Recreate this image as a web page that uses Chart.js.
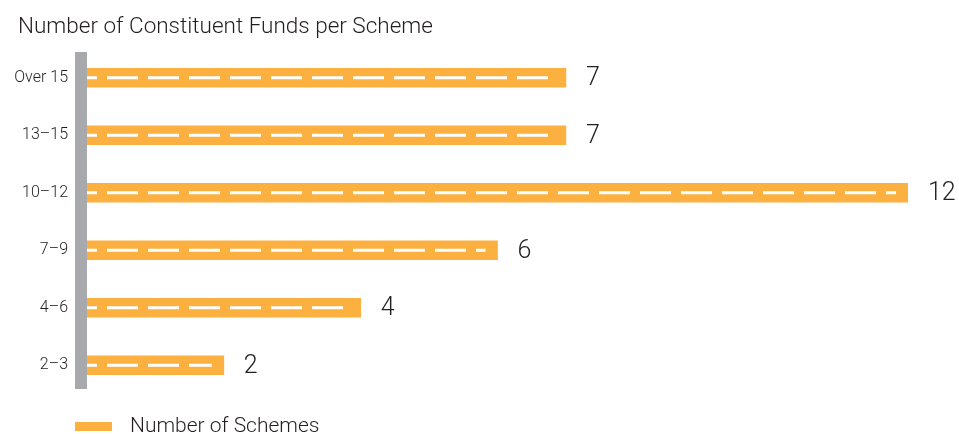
<!DOCTYPE html>
<html>
<head>
<meta charset="utf-8">
<script src="https://cdn.jsdelivr.net/npm/chart.js@4.4.1/dist/chart.umd.min.js"></script>
<style>
html, body { margin: 0; padding: 0; background: #fff; }
#wrap { width: 959px; height: 434px; }
</style>
</head>
<body>
<div id="wrap"><canvas id="chart"></canvas></div>
<script>
// data
const categories = ['Over 15', '13–15', '10–12', '7–9', '4–6', '2–3'];
const schemes = [7, 7, 12, 6, 4, 2];
const seriesName = 'Number of Schemes';
const titleText = 'Number of Constituent Funds per Scheme';

// look
const orange = '#fbb040';
const axisGrey = '#a7a9ac';
const textColor = '#231f20';
const fontFamily = "'Roboto', 'Liberation Sans', sans-serif";

// title, top left
const topTitle = {
    id: 'topTitle',
    afterDraw(chart) {
        const ctx = chart.ctx;
        ctx.save();
        ctx.fillStyle = textColor;
        ctx.font = '300 22.5px ' + fontFamily;
        ctx.textAlign = 'left';
        ctx.textBaseline = 'middle';
        ctx.fillText(titleText, 18, 27);
        ctx.restore();
    }
};

// grey vertical bar behind the category labels
const axisBar = {
    id: 'axisBar',
    beforeDatasetsDraw(chart) {
        const a = chart.chartArea;
        const ctx = chart.ctx;
        ctx.save();
        ctx.fillStyle = axisGrey;
        ctx.fillRect(a.left - 12, a.top + 3, 12, a.bottom - a.top - 8);
        ctx.restore();
    }
};

// white dashed centre line + value text for every bar
const barExtras = {
    id: 'barExtras',
    afterDatasetsDraw(chart) {
        const ctx = chart.ctx;
        const meta = chart.getDatasetMeta(0);
        ctx.save();
        meta.data.forEach(function(bar, i) {
            ctx.strokeStyle = '#fff';
            ctx.lineWidth = 3;
            ctx.setLineDash([31, 10]);
            ctx.lineDashOffset = 21;
            ctx.beginPath();
            ctx.moveTo(bar.base, bar.y);
            ctx.lineTo(bar.x - 12, bar.y);
            ctx.stroke();

            ctx.setLineDash([]);
            ctx.fillStyle = textColor;
            ctx.font = '300 25px ' + fontFamily;
            ctx.textAlign = 'left';
            ctx.textBaseline = 'middle';
            ctx.fillText(schemes[i], bar.x + 20, bar.y + 1);
        });
        ctx.restore();
    }
};

// legend at the bottom left
const bottomLegend = {
    id: 'bottomLegend',
    afterDraw(chart) {
        const ctx = chart.ctx;
        const x = chart.chartArea.left - 12;
        const y = chart.height - 7;
        ctx.save();
        ctx.fillStyle = chart.data.datasets[0].backgroundColor;
        ctx.fillRect(x, y - 5, 37, 9);
        ctx.fillStyle = textColor;
        ctx.font = '300 21px ' + fontFamily;
        ctx.textAlign = 'left';
        ctx.textBaseline = 'middle';
        ctx.fillText(chart.data.datasets[0].label, x + 55, y);
        ctx.restore();
    }
};

const ctx = document.getElementById('chart').getContext('2d');
let chart = new Chart(ctx, {
    type: 'bar',
    data: {
        labels: categories,
        datasets: [{
            label: seriesName,
            data: schemes,
            backgroundColor: orange,
            borderWidth: 0,
            barThickness: 19
        }]
    },
    options: {
        indexAxis: 'y',
        responsive: true,
        maintainAspectRatio: false,
        animation: false,
        layout: {
            padding: { left: 0, right: 51, top: 49, bottom: 40 }
        },
        scales: {
            x: {
                display: false,
                min: 0,
                max: 12
            },
            y: {
                grid: { display: false, drawTicks: false },
                border: { display: false },
                ticks: {
                    color: textColor,
                    padding: 19,
                    font: { family: fontFamily, size: 16, weight: '300' }
                },
                afterFit: function(scale) {
                    scale.width = 87;
                }
            }
        },
        plugins: {
            legend: { display: false },
            tooltip: { enabled: false },
            title: { display: false }
        }
    },
    plugins: [topTitle, axisBar, barExtras, bottomLegend]
});
</script>
</body>
</html>
